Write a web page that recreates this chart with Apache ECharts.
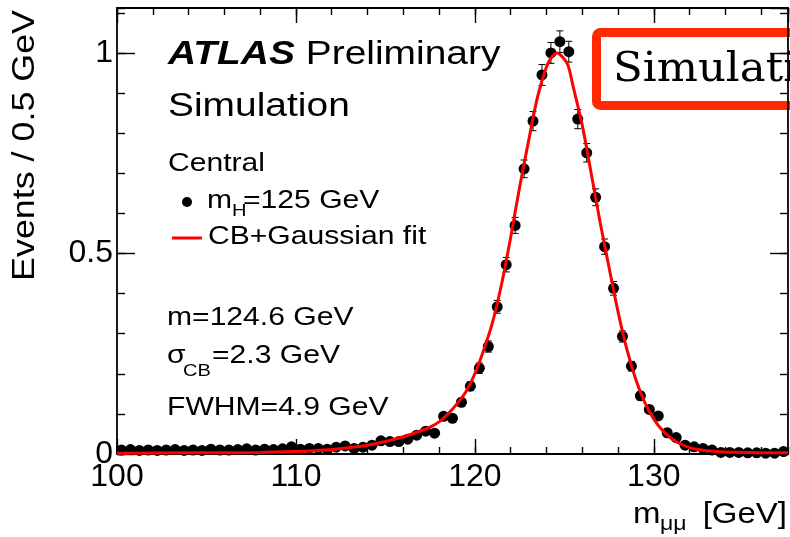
<!DOCTYPE html>
<html><head><meta charset="utf-8">
<script src="https://cdn.jsdelivr.net/npm/echarts@6/dist/echarts.min.js"></script>
<style>html,body{margin:0;padding:0;background:#fff}#c{width:790px;height:537px}</style>
</head><body><div id="c"></div>
<script>
// ---- data ----
const binCenters = [100.25,100.75,101.25,101.75,102.25,102.75,103.25,103.75,104.25,104.75,
  105.25,105.75,106.25,106.75,107.25,107.75,108.25,108.75,109.25,109.75,
  110.25,110.75,111.25,111.75,112.25,112.75,113.25,113.75,114.25,114.75,
  115.25,115.75,116.25,116.75,117.25,117.75,118.25,118.75,119.25,119.75,
  120.25,120.75,121.25,121.75,122.25,122.75,123.25,123.75,124.25,124.75,
  125.25,125.75,126.25,126.75,127.25,127.75,128.25,128.75,129.25,129.75,
  130.25,130.75,131.25,131.75,132.25,132.75,133.25,133.75,134.25,134.75,
  135.25,135.75,136.25,136.75,137.25];
const events = [0.010,0.011,0.009,0.010,0.009,0.010,0.011,0.009,0.010,0.009,
  0.012,0.010,0.010,0.011,0.013,0.010,0.012,0.011,0.013,0.018,
  0.012,0.014,0.014,0.012,0.017,0.020,0.014,0.017,0.022,0.033,
  0.031,0.031,0.037,0.047,0.057,0.052,0.094,0.089,0.129,0.169,
  0.214,0.268,0.367,0.472,0.570,0.711,0.830,0.945,1.000,1.028,
  1.003,0.835,0.751,0.640,0.517,0.413,0.293,0.219,0.145,0.111,
  0.095,0.053,0.041,0.022,0.018,0.014,0.010,0.004,0.004,0.004,
  0.003,0.003,0.002,0.002,0.006];
const errors = [0.003,0.003,0.003,0.003,0.003,0.003,0.003,0.003,0.003,0.003,
  0.003,0.003,0.003,0.003,0.003,0.003,0.003,0.003,0.003,0.004,
  0.004,0.004,0.004,0.004,0.004,0.004,0.004,0.004,0.005,0.006,
  0.006,0.006,0.006,0.007,0.007,0.007,0.008,0.008,0.010,0.011,
  0.013,0.014,0.016,0.018,0.020,0.022,0.024,0.026,0.026,0.027,
  0.026,0.024,0.023,0.021,0.019,0.017,0.014,0.012,0.010,0.009,
  0.008,0.006,0.005,0.004,0.004,0.004,0.003,0.003,0.003,0.003,
  0.003,0.003,0.003,0.003,0.003];
const fitMass = [100,104,108,110,111,112,113,114,115,116,117,117.5,118,118.5,119,119.5,120,120.5,121,121.5,
  122,122.5,123,123.5,124,124.3,124.6,124.9,125.2,125.5,126,126.5,127,127.5,128,128.5,129,129.5,130,130.5,
  131,131.5,132,132.5,133,134,135,136,137.5];
const fitValues = [0.002,0.003,0.004,0.006,0.008,0.011,0.016,0.022,0.031,0.043,0.058,0.067,0.080,0.100,0.125,0.155,0.200,0.260,0.330,0.425,
  0.540,0.665,0.780,0.890,0.965,0.990,1.000,0.990,0.970,0.915,0.820,0.700,0.578,0.465,0.355,0.260,0.185,0.128,0.087,0.058,
  0.038,0.025,0.016,0.011,0.008,0.005,0.004,0.003,0.003];
const xMajorTicks = 10, xMinorTicks = 2, yMajorTicks = 0.5, yMinorTicks = 0.1;

// ---- chart ----
const chart = echarts.init(document.getElementById('c'), null, {renderer: 'canvas'});
const SANS = '"Liberation Sans", Arial, Helvetica, sans-serif';
const black = '#000';
const tickStyle = {color: black, width: 1.4};
function xAx(pos, major, labels) {
  return {
    type: 'value', position: pos, min: 100, max: 137.5,
    interval: major ? xMajorTicks : xMinorTicks,
    axisLine: {show: major, onZero: false, lineStyle: {color: black, width: 1.8}},
    axisTick: {show: true, inside: true, length: major ? 15 : 7, lineStyle: tickStyle},
    axisLabel: {show: labels, fontSize: 32, fontFamily: SANS, color: black, margin: 7, showMaxLabel: false},
    splitLine: {show: false}
  };
}
function yAx(pos, major, labels) {
  return {
    type: 'value', position: pos, min: 0, max: 1.112,
    interval: major ? yMajorTicks : yMinorTicks,
    axisLine: {show: major, onZero: false, lineStyle: {color: black, width: 1.8}},
    axisTick: {show: true, inside: true, length: major ? 18 : 8, lineStyle: tickStyle},
    axisLabel: {show: labels, fontSize: 32, fontFamily: SANS, color: black, margin: 4, showMaxLabel: false},
    splitLine: {show: false}
  };
}
const S = 1.18; // horizontal stretch of annotation text
function label(x, y, text, size, extra, sx, align) {
  return {type: 'text', x: x, y: y, scaleX: sx || S, z: 10,
    style: Object.assign({text: text, fontSize: size, fontFamily: SANS, fill: black,
      align: align || 'left', textAlign: align || 'left', verticalAlign: 'middle', textVerticalAlign: 'middle'}, extra || {})};
}

const option = {
  animation: false,
  backgroundColor: '#fff',
  grid: {left: 117, right: 2, top: 8, bottom: 83, containLabel: false, outerBoundsMode: 'none'},
  xAxis: [xAx('bottom', true, true), xAx('bottom', false, false), xAx('top', true, false), xAx('top', false, false)],
  yAxis: [yAx('left', true, true), yAx('left', false, false), yAx('right', true, false), yAx('right', false, false)],
  series: [
    {
      type: 'custom', xAxisIndex: 0, yAxisIndex: 0, z: 3, silent: true,
      data: binCenters.map((m, i) => [m, events[i], errors[i]]),
      renderItem: function (params, api) {
        const m = api.value(0), v = api.value(1), e = api.value(2);
        const hi = api.coord([m, v + e]), lo = api.coord([m, v - e]);
        const hw = 3.5, st = {stroke: black, lineWidth: 1};
        return {type: 'group', children: [
          {type: 'line', shape: {x1: hi[0], y1: hi[1], x2: lo[0], y2: lo[1]}, style: st},
          {type: 'line', shape: {x1: hi[0] - hw, y1: hi[1], x2: hi[0] + hw, y2: hi[1]}, style: st},
          {type: 'line', shape: {x1: lo[0] - hw, y1: lo[1], x2: lo[0] + hw, y2: lo[1]}, style: st}
        ]};
      }
    },
    {
      type: 'scatter', xAxisIndex: 0, yAxisIndex: 0, z: 3,
      symbol: 'circle', symbolSize: 11, itemStyle: {color: black, opacity: 1},
      data: binCenters.map((m, i) => [m, events[i]])
    },
    {
      type: 'line', xAxisIndex: 0, yAxisIndex: 0, z: 4, smooth: 0.3,
      showSymbol: false, lineStyle: {color: '#ff0000', width: 3},
      data: fitMass.map((m, i) => [m, fitValues[i]])
    }
  ],
  graphic: [
    {type: 'rect', z: -1, shape: {x: 596.5, y: 32.5, width: 260, height: 73, r: 4},
      style: {fill: '#fff', stroke: '#ff2a00', lineWidth: 9}},
    {type: 'text', z: -1, x: 613, y: 70, scaleX: 1.06,
      style: {text: 'Simulation', fontSize: 41, fontFamily: '"DejaVu Serif", "Liberation Serif", serif', fill: black,
        align: 'left', textAlign: 'left', verticalAlign: 'middle', textVerticalAlign: 'middle'}},
    label(168, 55, '{b|ATLAS} Preliminary', 33, {rich: {b: {fontSize: 33, fontFamily: SANS, fill: black, fontWeight: 'bold', fontStyle: 'italic'}}}),
    label(168, 107, 'Simulation', 33),
    label(168, 164, 'Central', 25.5),
    {type: 'circle', z: 10, shape: {cx: 187, cy: 202, r: 5}, style: {fill: black}},
    label(207, 201, 'm', 25.5),
    label(232, 211, 'H', 17),
    label(243, 201, '=125 GeV', 25.5),
    {type: 'line', z: 10, shape: {x1: 172, y1: 238, x2: 202, y2: 238}, style: {stroke: '#ff0000', lineWidth: 3}},
    label(208, 237, 'CB+Gaussian fit', 25.5),
    label(167, 318, 'm=124.6 GeV', 25.5),
    label(167, 356, 'σ', 25.5),
    label(183, 371, 'CB', 17),
    label(212, 356, '=2.3 GeV', 25.5),
    label(167, 408, 'FWHM=4.9 GeV', 25.5),
    label(633, 515, 'm', 30, null, 1.1),
    label(660, 524, 'μμ', 21, null, 1.1),
    label(787, 515, '[GeV]', 30, null, 1.1, 'right'),
    {type: 'text', z: 10, x: 25, y: 10, rotation: Math.PI / 2, scaleX: 1.12,
      style: {text: 'Events / 0.5 GeV', fontSize: 32, fontFamily: SANS, fill: black,
        align: 'right', textAlign: 'right', verticalAlign: 'middle', textVerticalAlign: 'middle'}}
  ]
};
chart.setOption(option);
</script></body></html>
